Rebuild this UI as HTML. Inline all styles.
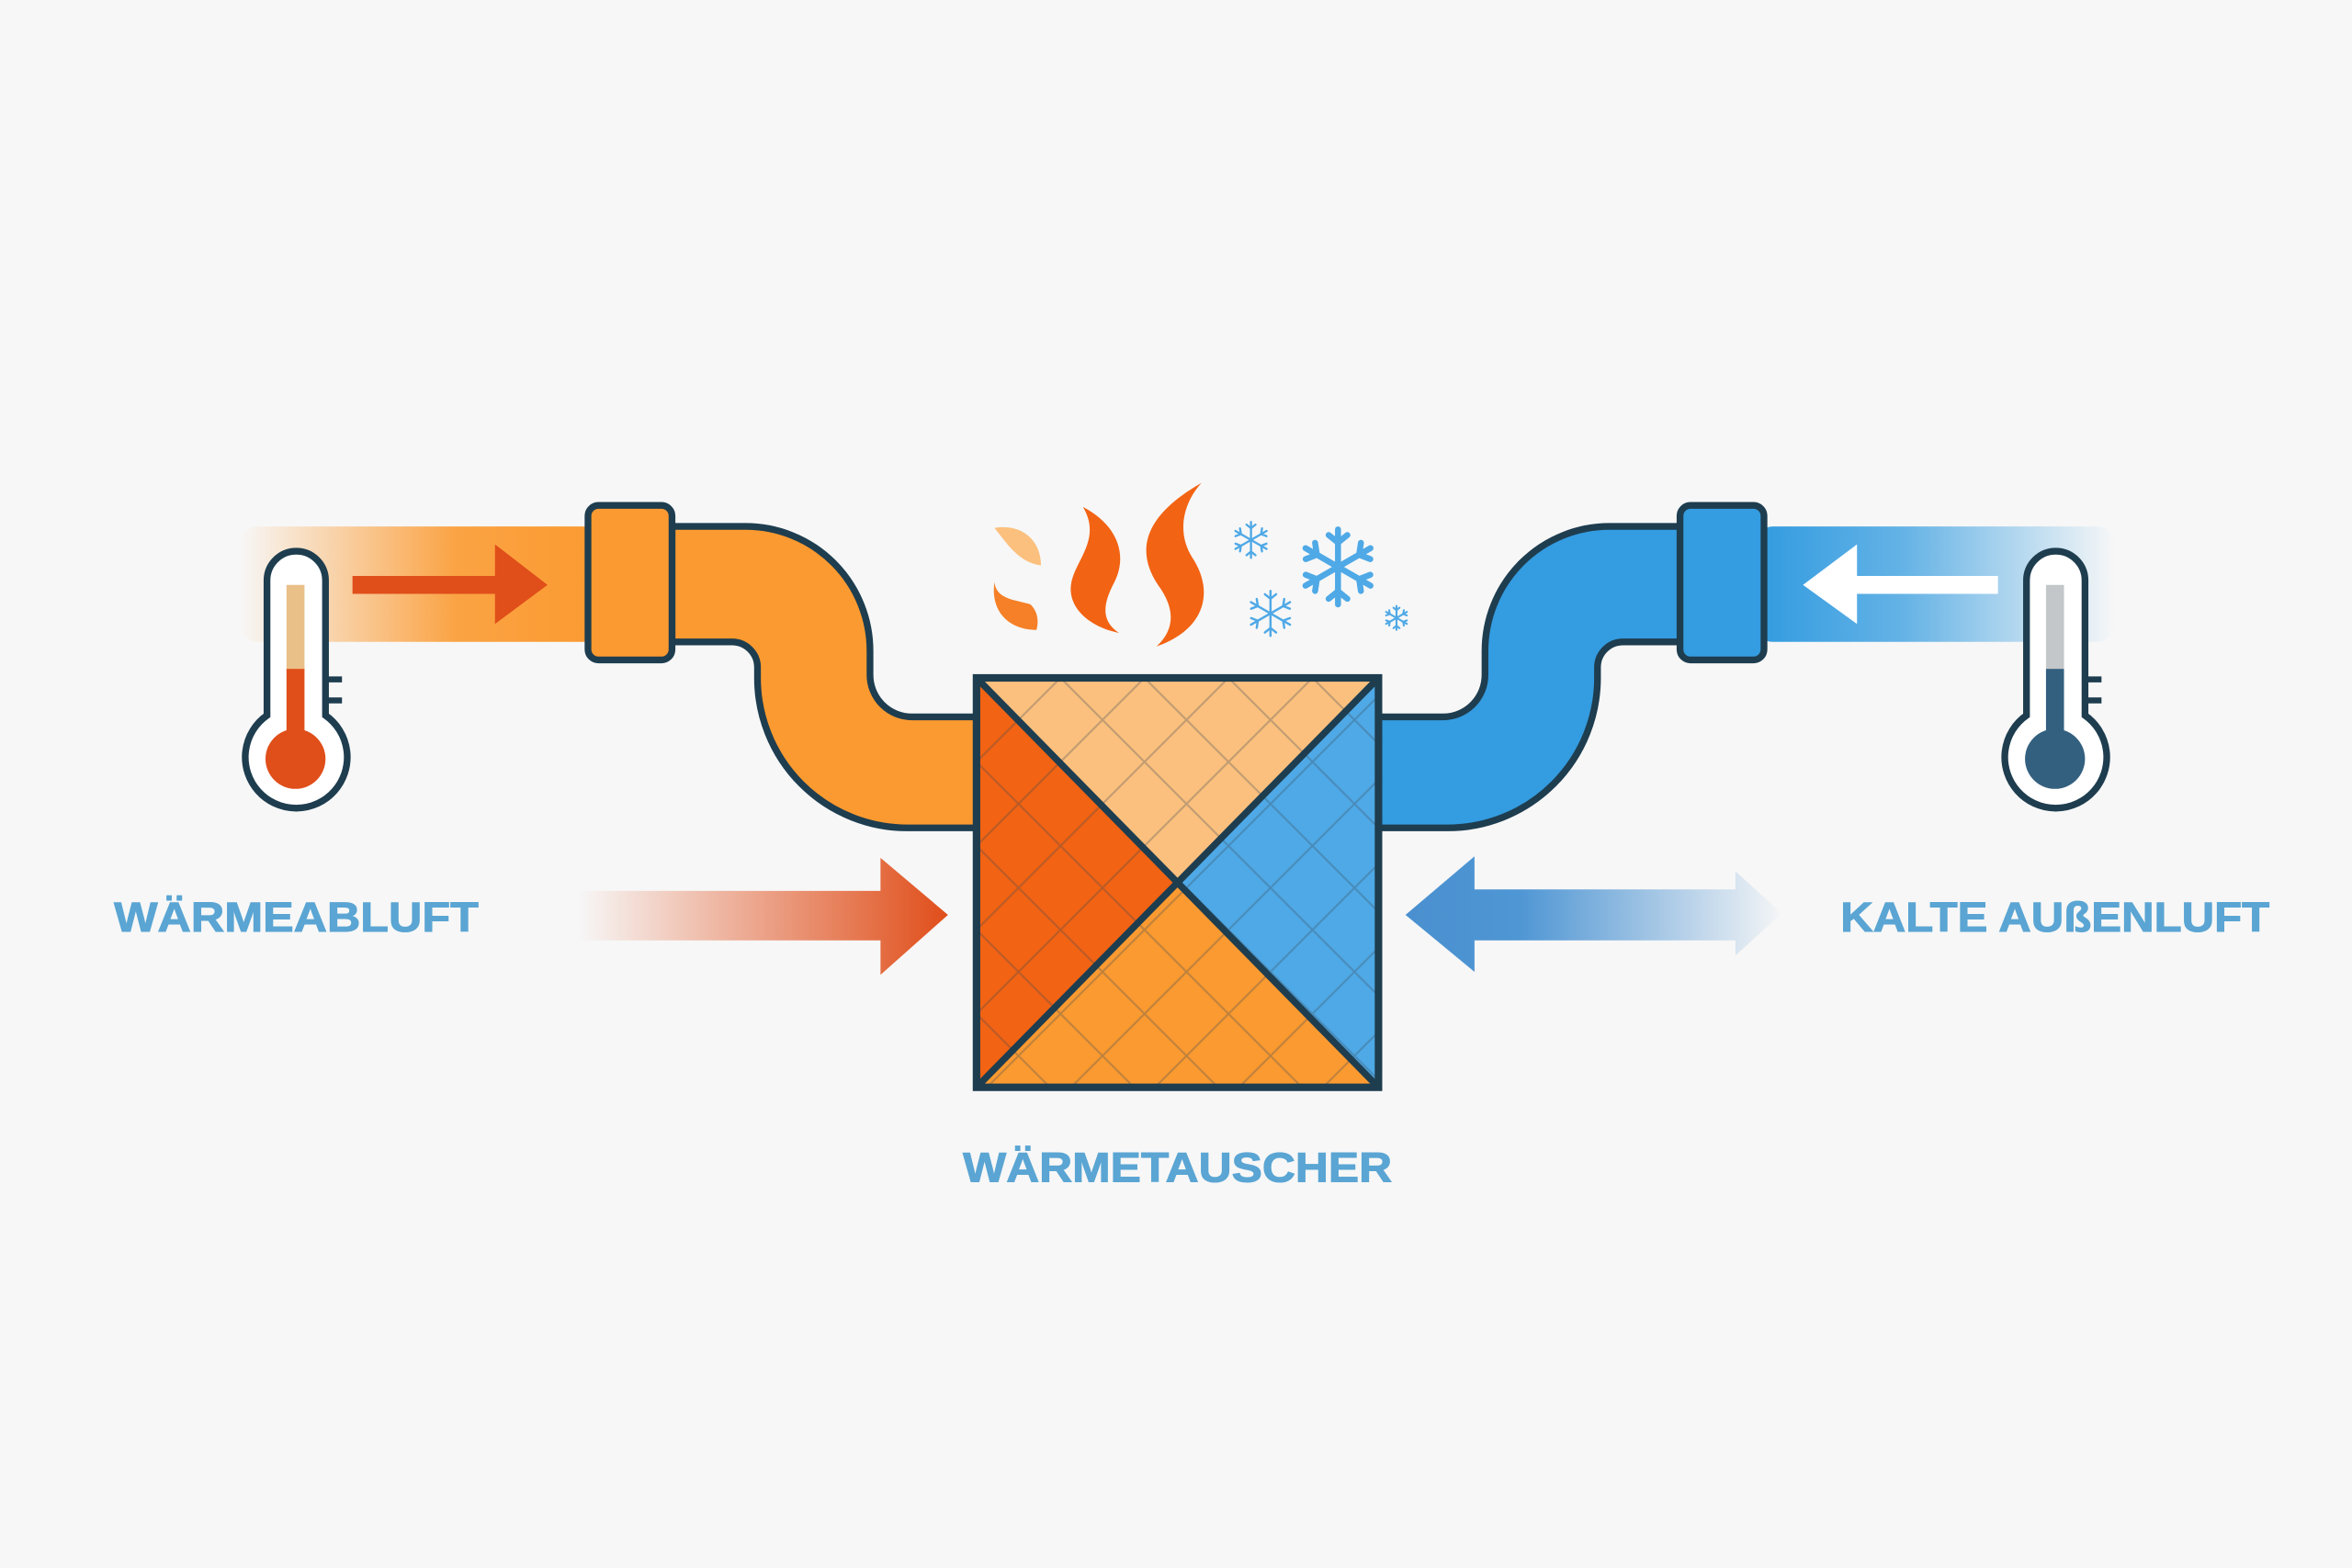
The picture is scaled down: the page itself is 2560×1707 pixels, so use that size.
<!DOCTYPE html>
<html><head><meta charset="utf-8"><style>
html,body{margin:0;padding:0;background:#f7f7f7;}
svg{display:block;}
</style></head><body>
<svg width="2560" height="1707" viewBox="0 0 1568 1045.5" xmlns="http://www.w3.org/2000/svg">
<defs>
<linearGradient id="bandL" x1="160" y1="0" x2="400" y2="0" gradientUnits="userSpaceOnUse">
<stop offset="0" stop-color="#fb9a30" stop-opacity="0"/><stop offset="0.6" stop-color="#fb9a30" stop-opacity="0.9"/><stop offset="1" stop-color="#fb9a30"/></linearGradient>
<linearGradient id="bandR" x1="1410" y1="0" x2="1176" y2="0" gradientUnits="userSpaceOnUse">
<stop offset="0" stop-color="#349ce0" stop-opacity="0"/><stop offset="0.6" stop-color="#349ce0" stop-opacity="0.75"/><stop offset="1" stop-color="#349ce0"/></linearGradient>
<linearGradient id="arrR" x1="385" y1="0" x2="632" y2="0" gradientUnits="userSpaceOnUse">
<stop offset="0" stop-color="#e04e1a" stop-opacity="0"/><stop offset="1" stop-color="#e04e1a"/></linearGradient>
<linearGradient id="arrB" x1="937" y1="0" x2="1190" y2="0" gradientUnits="userSpaceOnUse">
<stop offset="0" stop-color="#4a90d0"/><stop offset="0.3" stop-color="#4f96d4"/><stop offset="1" stop-color="#4a90d0" stop-opacity="0"/></linearGradient>
<pattern id="hatch" width="56" height="56" patternUnits="userSpaceOnUse" x="651" y="452">
<path d="M0,0 L56,56 M56,0 L0,56" stroke="#3a4a55" stroke-opacity="0.3" stroke-width="1.3"/></pattern>
<g id="flake" stroke="#4fa9e6" stroke-linecap="round" fill="none">
<g id="arm"><line x1="0" y1="-1" x2="0" y2="1"/><path d="M-0.25,-0.85 L0,-0.65 L0.25,-0.85 M-0.25,0.85 L0,0.65 L0.25,0.85"/></g>
<use href="#arm" transform="rotate(60)"/><use href="#arm" transform="rotate(120)"/>
</g>
</defs>
<rect width="1568" height="1046" fill="#f7f7f7"/>

<rect x="160" y="351" width="240" height="77" rx="12" fill="url(#bandL)"/>
<rect x="1170" y="351" width="240" height="77" rx="12" fill="url(#bandR)"/>
<path d="M235,384 H330 V363 L365,390 L330,416 V396 H235 Z" fill="#e04e1a"/>
<path d="M1332,384 H1238 V363 L1202,390 L1238,416 V396 H1332 Z" fill="#ffffff"/>

<path d="M448,351 H497 A83,83 0 0 1 580,434 V450 A28,28 0 0 0 608,478 H655 V552 H605 A100,100 0 0 1 505,452 V445 A17,17 0 0 0 488,428 H448 Z" fill="#fb9a30" stroke="#1e3d4f" stroke-width="4.5" stroke-linejoin="round"/>
<rect x="392" y="337" width="56" height="103" rx="7" fill="#fb9a30" stroke="#1e3d4f" stroke-width="4.5"/>
<g transform="translate(1570,0) scale(-1,1)">
<path d="M448,351 H497 A83,83 0 0 1 580,434 V450 A28,28 0 0 0 608,478 H655 V552 H605 A100,100 0 0 1 505,452 V445 A17,17 0 0 0 488,428 H448 Z" fill="#349ce0" stroke="#1e3d4f" stroke-width="4.5" stroke-linejoin="round"/>
<rect x="394" y="337" width="56" height="103" rx="7" fill="#349ce0" stroke="#1e3d4f" stroke-width="4.5"/>
</g>

<polygon points="651,452 919,452 785,588" fill="#fcc07e"/>
<polygon points="651,452 785,588 651,725" fill="#f26313"/>
<polygon points="651,725 785,588 919,725" fill="#fb9a30"/>
<polygon points="919,452 785,588 919,725" fill="#4fa9e6"/>
<rect x="651" y="452" width="268" height="273" fill="url(#hatch)"/>
<path d="M651,452 L919,725 M919,452 L651,725" stroke="#1e3d4f" stroke-width="4.5"/>
<rect x="651" y="452" width="268" height="273" fill="none" stroke="#1e3d4f" stroke-width="5"/>

<path d="M663,352 C681,349 694,360 694,377 C679,375 671,362 663,352Z" fill="#fcc07e"/>
<path d="M663,388 C664,400 678,400 687,403 C693,409 692,416 691,420 C673,420 660,408 663,388Z" fill="#f58027"/>
<path d="M722,338 C745,350 752,370 743,388 C735,403 734,414 746,422 C726,418 712,405 714,390 C716,374 735,360 722,338Z" fill="#f26313"/>
<path d="M801,322 C789,335 784,355 795,372 C810,395 803,420 771,431 C784,419 783,405 772,390 C756,366 764,343 801,322Z" fill="#f26313"/>

<use href="#flake" transform="translate(834,360) scale(12)" stroke-width="0.12"/>
<use href="#flake" transform="translate(892,378) scale(25)" stroke-width="0.16"/>
<use href="#flake" transform="translate(847,409) scale(15)" stroke-width="0.1"/>
<use href="#flake" transform="translate(931,412) scale(8)" stroke-width="0.16"/>

<g id="thermL">
<path d="M178,387 A19.5,19.5 0 0 1 217,387 V477 A34,34 0 1 1 178,477 Z" fill="#ffffff" stroke="#1e3d4f" stroke-width="4.5"/>
<line x1="217" y1="453" x2="228" y2="453" stroke="#1e3d4f" stroke-width="4"/>
<line x1="217" y1="467" x2="228" y2="467" stroke="#1e3d4f" stroke-width="4"/>
</g>
<rect x="191" y="390" width="12" height="57" fill="#e9c088"/>
<rect x="191" y="446" width="12" height="54" fill="#e04e1a"/>
<circle cx="197" cy="506" r="20" fill="#e04e1a"/>
<use href="#thermL" transform="translate(1173,0)"/>
<rect x="1364" y="390" width="12" height="57" fill="#c3c7c9"/>
<rect x="1364" y="446" width="12" height="54" fill="#34607f"/>
<circle cx="1370" cy="506" r="20" fill="#34607f"/>

<path d="M385,594 H587 V572 L632,610 L587,650 V627 H385 Z" fill="url(#arrR)"/>
<path d="M937,610 L983,571 V593 H1157 V581 L1188,609 L1157,637 V627 H983 V648 Z" fill="url(#arrB)"/>

<g font-family="Liberation Sans, sans-serif" font-weight="bold" fill="#5aa5d3" font-size="28" stroke="#5aa5d3" stroke-width="0.6">
<text x="76" y="621" textLength="243" lengthAdjust="spacingAndGlyphs">WÄRMEABLUFT</text>
<text x="1227" y="621" textLength="286" lengthAdjust="spacingAndGlyphs">KALTE AUßENLUFT</text>
<text x="642" y="788" textLength="286" lengthAdjust="spacingAndGlyphs">WÄRMETAUSCHER</text>
</g>
</svg>
</body></html>
